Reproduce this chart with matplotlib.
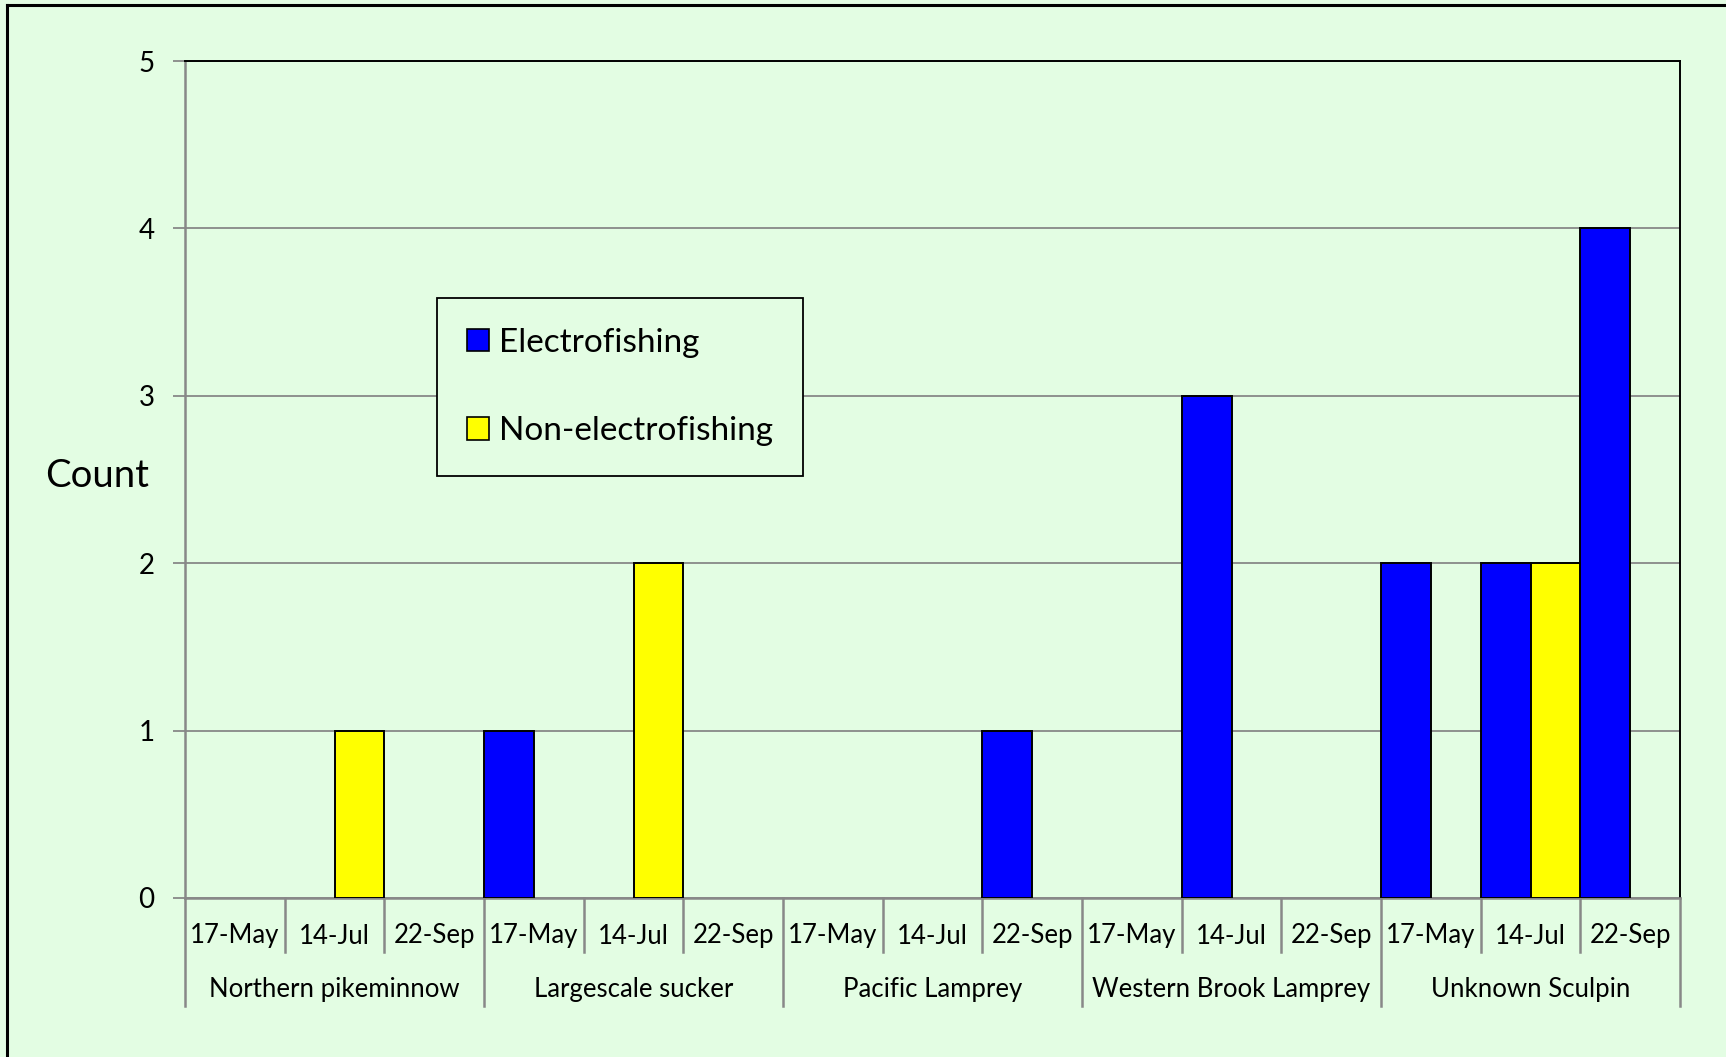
import numpy as np
import matplotlib
matplotlib.use('Agg')
import matplotlib.pyplot as plt
from matplotlib.patches import Patch
from matplotlib.lines import Line2D

plt.rcParams['font.family'] = ['Lato', 'DejaVu Sans']

species = ['Northern pikeminnow', 'Largescale sucker', 'Pacific Lamprey',
           'Western Brook Lamprey', 'Unknown Sculpin']
dates = ['17-May', '14-Jul', '22-Sep']
electro = [0, 0, 0, 1, 0, 0, 0, 0, 1, 0, 3, 0, 2, 2, 4]
non_electro = [0, 1, 0, 0, 2, 0, 0, 0, 0, 0, 0, 0, 0, 2, 0]

bg = '#E3FDE3'
grey = '#888888'

fig = plt.figure(figsize=(17.26, 10.57), dpi=100, facecolor=bg)
ax = fig.add_axes([185/1726, 1-898/1057, (1680-185)/1726, (898-61)/1057])
ax.set_facecolor(bg)

n = len(electro)
x = np.arange(n)
w = 0.5
lw_e = [1.4 if v > 0 else 0 for v in electro]
lw_n = [1.4 if v > 0 else 0 for v in non_electro]
ax.bar(x - w/2, electro, w, color='#0000FF', edgecolor='black', linewidth=lw_e, zorder=3)
ax.bar(x + w/2, non_electro, w, color='#FFFF00', edgecolor='black', linewidth=lw_n, zorder=3)

ax.set_xlim(-0.5, n - 0.5)
ax.set_ylim(0, 5)
ax.set_yticks(range(6))
ax.yaxis.grid(True, color=grey, linewidth=1.3, zorder=0)
ax.set_axisbelow(True)
ax.tick_params(axis='y', length=9, width=1.3, color=grey, labelsize=20, pad=13)
ax.set_xticks([])
for s in ['top', 'right']:
    ax.spines[s].set_color('black')
    ax.spines[s].set_linewidth(1.4)
for s in ['left', 'bottom']:
    ax.spines[s].set_color(grey)
    ax.spines[s].set_linewidth(1.8)

# two-level category axis
tr = ax.get_xaxis_transform()
h1 = -(952 - 898) / 837
h2 = -(1006 - 898) / 837
for b in np.arange(n + 1) - 0.5:
    low = h2 if int(b + 0.5) % 3 == 0 else h1
    ax.plot([b, b], [0, low], color=grey, lw=1.8, transform=tr, clip_on=False)
for i in range(n):
    ax.text(i, -(936 - 898) / 837, dates[i % 3], transform=tr, ha='center',
            va='center', fontsize=18.5)
for j, sp in enumerate(species):
    ax.text(3*j + 1, -(990 - 898) / 837, sp, transform=tr, ha='center',
            va='center', fontsize=18.5)

fig.text(97/1726, 1 - 476/1057, 'Count', ha='center', va='center', fontsize=27.5)

# legend
handles = [Patch(facecolor='#0000FF', edgecolor='black', linewidth=1.2),
           Patch(facecolor='#FFFF00', edgecolor='black', linewidth=1.2)]
leg = ax.legend(handles, ['Electrofishing', 'Non-electrofishing'],
                loc='upper left', bbox_to_anchor=((437-185)/1495, 1-(298-61)/837),
                fontsize=24, frameon=True, fancybox=False, edgecolor='black',
                facecolor=bg, framealpha=1, labelspacing=1.75, handlelength=0.65,
                handleheight=0.65, handletextpad=0.3, borderpad=0.9, borderaxespad=0)
leg.get_frame().set_linewidth(1.3)
leg.set_zorder(5)

# outer border (only left and top visible in the crop)
fig.add_artist(Line2D([7/1726, 7/1726], [0, 1-5/1057], color='black', lw=2.2,
                      transform=fig.transFigure))
fig.add_artist(Line2D([7/1726, 1], [1-5/1057, 1-5/1057], color='black', lw=2.2,
                      transform=fig.transFigure))

fig.savefig('out.png', dpi=100, facecolor=bg)
